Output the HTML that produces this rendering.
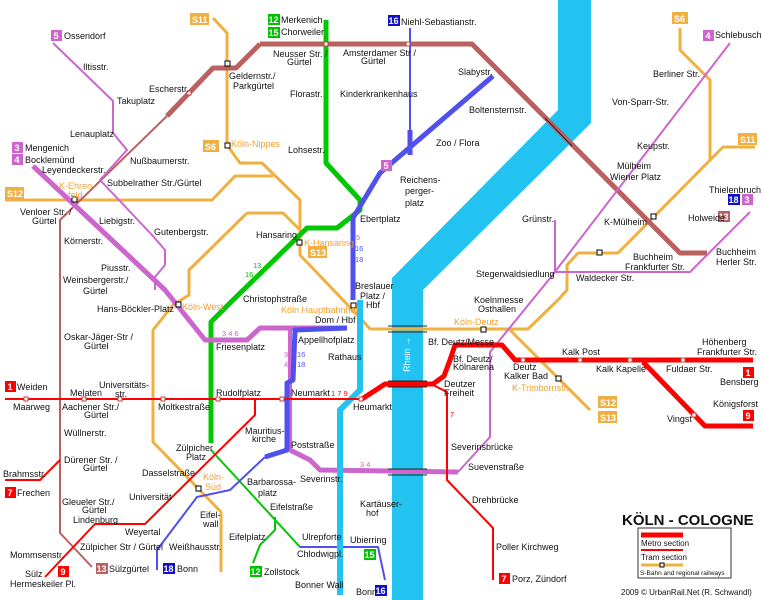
<!DOCTYPE html>
<html><head><meta charset="utf-8"><style>
html,body{margin:0;padding:0;background:#fff}
svg{display:block}
text{font-family:"Liberation Sans",sans-serif;font-size:9px;fill:#111}
.o{fill:#f0a030}
.s{font-size:7.5px}
.bw{fill:#fff;font-weight:bold;font-size:9px}
</style></head><body>
<svg width="762" height="600" viewBox="0 0 762 600" xmlns="http://www.w3.org/2000/svg">
<rect width="762" height="600" fill="#fff"/>
<polygon points="558,0 591,0 591,123 423,290 423,600 392,600 392,278 558,110" fill="#22c3f0"/>
<g fill="none" stroke-linejoin="round" stroke-linecap="butt">
<g stroke="#f0b040" stroke-width="3">
<polyline points="213,18 227,33 227,145 240,163 262,163 300,200 300,255 343,300 362,320 370,329 528,329 558,300 567,290 567,265 578,253 618,253 723,147 755,147"/>
<polyline points="680,28 680,50 710,80 710,160"/>
<polyline points="5,200 212,200 235,176 273,176"/>
<polyline points="247,213 283,213 300,230"/>
<polyline points="247,213 189,270 189,295 173,305 153,330 153,442 221,512 221,572"/>
<polyline points="510,330 590,410"/>
</g>
<g stroke="#bb6060">
<polyline points="260,44 472,44 680,253 707,253" stroke-width="5"/>
<polyline points="260,44 236,68 213,68 167,116" stroke-width="5"/>
<polyline points="167,116 60,220 60,533 92,567" stroke-width="2"/>
</g>
<g stroke="#00c800">
<polyline points="326,20 326,163 360,200 360,210 337,228 307,228 233,300 211,322 211,443" stroke-width="5"/>
<polyline points="211,450 300,547 378,547" stroke-width="2"/>
<polyline points="275,517 275,530 260,545 253,563" stroke-width="2"/>
</g>
<g stroke="#cc66cc">
<polyline points="33,166 165,290 205,340 247,340 260,328 347,328" stroke-width="5"/>
<polyline points="290,450 310,460 320,470 458,472" stroke-width="5"/>
<polyline points="53,43 113,101 113,133 127,150 100,180 153,236 165,250 165,265 155,277 155,290" stroke-width="2"/>
<polyline points="458,472 490,437 490,352 551,277 730,43" stroke-width="2"/>
<polyline points="555,220 555,272 690,272 750,212" stroke-width="2"/>
<polyline points="290,330 290,450" stroke-width="4"/>
</g>
<g stroke="#5050ee">
<polyline points="410,28 410,130" stroke-width="2"/>
<polyline points="410,130 410,155" stroke-width="5"/>
<polyline points="493,76 380,173 353,218 353,300" stroke-width="5"/>
<polyline points="347,328 295,330 293,380 287,383 287,450 265,457" stroke-width="5"/>
<polyline points="265,457 230,490 197,497 157,550 157,570" stroke-width="2"/>
<polyline points="300,547 378,547 385,580" stroke-width="2"/>
</g>
<polyline points="360,300 360,390 340,410 340,595" stroke="#22c3f0" stroke-width="6"/>
<g stroke="#ff0000">
<polyline points="5,399 362,399" stroke-width="2"/>
<polyline points="362,399 385,384 433,384 444,376 450,360 455,345 502,345 515,360 753,360" stroke-width="5"/>
<polyline points="643,362 705,426 753,426" stroke-width="5"/>
<polyline points="433,385 447,392 447,480 493,528 493,580" stroke-width="2"/>
<polyline points="255,399 255,415 145,524 95,524 45,577" stroke-width="2"/>
<polyline points="60,460 40,480 5,480" stroke-width="2"/>
</g>
<g stroke="#222" stroke-width="1">
<line x1="388" y1="326" x2="427" y2="326"/><line x1="388" y1="332" x2="427" y2="332"/>
<line x1="388" y1="381" x2="427" y2="381"/><line x1="388" y1="387" x2="427" y2="387"/>
<line x1="388" y1="469" x2="427" y2="469"/><line x1="388" y1="475" x2="427" y2="475"/>
<line x1="545" y1="118" x2="572" y2="146"/>
</g>
</g>
<g fill="#fff" stroke="#c04040" stroke-width="1">
<rect x="324" y="42" width="4" height="4"/><rect x="406" y="42" width="4" height="4"/><rect x="187" y="91" width="4" height="4"/>
<rect x="24" y="397" width="4" height="4"/><rect x="82" y="397" width="4" height="4"/><rect x="118" y="397" width="4" height="4"/><rect x="161" y="397" width="4" height="4"/><rect x="216" y="397" width="4" height="4"/><rect x="280" y="397" width="4" height="4"/><rect x="359" y="397" width="4" height="4"/>
<rect x="521" y="358" width="4" height="4"/><rect x="578" y="358" width="4" height="4"/><rect x="628" y="358" width="4" height="4"/><rect x="681" y="358" width="4" height="4"/><rect x="692" y="413" width="4" height="4"/>
</g>
<g fill="#fff" stroke="#000" stroke-width="1">
<rect x="225" y="61" width="5" height="5"/><rect x="225" y="143" width="5" height="5"/><rect x="72" y="197" width="5" height="5"/><rect x="297" y="240" width="5" height="5"/><rect x="176" y="302" width="5" height="5"/><rect x="351" y="303" width="5" height="5"/><rect x="196" y="486" width="5" height="5"/><rect x="481" y="327" width="5" height="5"/><rect x="556" y="376" width="5" height="5"/><rect x="651" y="214" width="5" height="5"/><rect x="597" y="250" width="5" height="5"/>
</g>
<g>
<rect x="51" y="30" width="11" height="11" fill="#cc66cc"/><text x="53.5" y="39" class="bw">5</text>
<rect x="12" y="142" width="11" height="11" fill="#cc66cc"/><text x="14.5" y="151" class="bw">3</text>
<rect x="12" y="154" width="11" height="11" fill="#cc66cc"/><text x="14.5" y="163" class="bw">4</text>
<rect x="268" y="14" width="12" height="11" fill="#00c000"/><text x="268.5" y="23" class="bw">12</text>
<rect x="268" y="27" width="12" height="11" fill="#00c000"/><text x="268.5" y="36" class="bw">15</text>
<rect x="190" y="13" width="19" height="12" fill="#f0b040"/><text x="192" y="23" class="bw">S11</text>
<rect x="203" y="140" width="16" height="12" fill="#f0b040"/><text x="205" y="150" class="bw">S6</text>
<rect x="5" y="187" width="19" height="12" fill="#f0b040"/><text x="7" y="197" class="bw">S12</text>
<rect x="308" y="246" width="19" height="12" fill="#f0b040"/><text x="310" y="256" class="bw">S13</text>
<rect x="388" y="15" width="12" height="11" fill="#1010cc"/><text x="388.5" y="24" class="bw">16</text>
<rect x="381" y="160" width="11" height="11" fill="#cc66cc"/><text x="383.5" y="169" class="bw">5</text>
<rect x="672" y="12" width="16" height="12" fill="#f0b040"/><text x="674" y="22" class="bw">S6</text>
<rect x="703" y="30" width="11" height="11" fill="#cc66cc"/><text x="705.5" y="39" class="bw">4</text>
<rect x="738" y="133" width="19" height="12" fill="#f0b040"/><text x="740" y="143" class="bw">S11</text>
<rect x="728" y="194" width="12" height="11" fill="#1010cc"/><text x="728.5" y="203" class="bw">18</text>
<rect x="742" y="194" width="11" height="11" fill="#cc66cc"/><text x="744.5" y="203" class="bw">3</text>
<rect x="718" y="211" width="12" height="11" fill="#bb6060"/><text x="718.5" y="220" class="bw">13</text>
<rect x="5" y="381" width="11" height="11" fill="#ff0000"/><text x="7.5" y="390" class="bw">1</text>
<rect x="5" y="487" width="11" height="11" fill="#ff0000"/><text x="7.5" y="496" class="bw">7</text>
<rect x="58" y="566" width="11" height="11" fill="#ff0000"/><text x="60.5" y="575" class="bw">9</text>
<rect x="96" y="563" width="12" height="11" fill="#bb6060"/><text x="96.5" y="572" class="bw">13</text>
<rect x="163" y="563" width="12" height="11" fill="#1010cc"/><text x="163.5" y="572" class="bw">18</text>
<rect x="250" y="566" width="12" height="11" fill="#00c000"/><text x="250.5" y="575" class="bw">12</text>
<rect x="364" y="549" width="12" height="11" fill="#00c000"/><text x="364.5" y="558" class="bw">15</text>
<rect x="375" y="585" width="12" height="11" fill="#1010cc"/><text x="375.5" y="594" class="bw">16</text>
<rect x="743" y="367" width="11" height="11" fill="#ff0000"/><text x="745.5" y="376" class="bw">1</text>
<rect x="743" y="410" width="11" height="11" fill="#ff0000"/><text x="745.5" y="419" class="bw">9</text>
<rect x="598" y="396" width="19" height="12" fill="#f0b040"/><text x="600" y="406" class="bw">S12</text>
<rect x="598" y="411" width="19" height="12" fill="#f0b040"/><text x="600" y="421" class="bw">S13</text>
<rect x="499" y="573" width="11" height="11" fill="#ff0000"/><text x="501.5" y="582" class="bw">7</text>
</g>
<g>
<text x="64" y="39">Ossendorf</text><text x="83" y="70">Iltisstr.</text><text x="117" y="104">Takuplatz</text><text x="70" y="137">Lenauplatz</text><text x="130" y="164">Nußbaumerstr.</text>
<text x="25" y="151">Mengenich</text><text x="25" y="163">Bocklemünd</text><text x="42" y="173">Leyendeckerstr.</text><text x="149" y="92">Escherstr.</text>
<text x="229" y="79">Geldernstr./</text><text x="233" y="89">Parkgürtel</text><text x="273" y="57">Neusser Str. /</text><text x="287" y="65">Gürtel</text>
<text x="290" y="97">Florastr.</text><text x="288" y="153">Lohsestr.</text><text x="281" y="23">Merkenich</text><text x="281" y="35">Chorweiler</text>
<text x="231" y="147" class="o">Köln-Nippes</text><text x="59" y="189" class="o">K-Ehren-</text><text x="68" y="198" class="o">feld</text>
<text x="107" y="186">Subbelrather Str./Gürtel</text><text x="20" y="215">Venloer Str. /</text><text x="32" y="224">Gürtel</text>
<text x="99" y="224">Liebigstr.</text><text x="154" y="235">Gutenbergstr.</text><text x="64" y="244">Körnerstr.</text><text x="101" y="271">Piusstr.</text>
<text x="63" y="283">Weinsbergerstr./</text><text x="83" y="294">Gürtel</text><text x="256" y="238">Hansaring</text><text x="304" y="246" class="o">K-Hansaring</text>
<text x="253" y="268" class="s" style="fill:#00c000">13</text><text x="245" y="277" class="s" style="fill:#00c000">16</text>
<text x="356" y="240" class="s" style="fill:#cc66cc">5</text><text x="355" y="251" class="s" style="fill:#5050ee">16</text><text x="355" y="262" class="s" style="fill:#5050ee">18</text>
<text x="243" y="302">Christophstraße</text><text x="355" y="289">Breslauer</text><text x="360" y="299">Platz /</text><text x="366" y="308">Hbf</text>
<text x="401" y="25">Niehl-Sebastianstr.</text><text x="343" y="56">Amsterdamer Str /</text><text x="361" y="64">Gürtel</text><text x="340" y="97">Kinderkrankenhaus</text>
<text x="458" y="75">Slabystr.</text><text x="469" y="113">Boltensternstr.</text><text x="436" y="146">Zoo / Flora</text>
<text x="400" y="183">Reichens-</text><text x="405" y="194">perger-</text><text x="405" y="206">platz</text><text x="360" y="222">Ebertplatz</text>
<text x="715" y="38">Schlebusch</text><text x="653" y="77">Berliner Str.</text><text x="612" y="105">Von-Sparr-Str.</text><text x="637" y="149">Keupstr.</text>
<text x="617" y="169">Mülheim</text><text x="610" y="180">Wiener Platz</text><text x="709" y="193">Thielenbruch</text><text x="688" y="221">Holweide</text>
<text x="522" y="222">Grünstr.</text><text x="604" y="225">K-Mülheim</text><text x="633" y="260">Buchheim</text><text x="625" y="270">Frankfurter Str.</text>
<text x="716" y="255">Buchheim</text><text x="716" y="265">Herler Str.</text><text x="476" y="277">Stegerwaldsiedlung</text><text x="576" y="281">Waldecker Str.</text>
<text x="474" y="303">Koelnmesse</text><text x="478" y="312">Osthallen</text>
<text x="97" y="312">Hans-Böckler-Platz</text><text x="182" y="310" class="o">Köln-West</text><text x="281" y="313" class="o">Köln Hauptbahnhof</text><text x="315" y="323">Dom / Hbf</text>
<text x="64" y="340">Oskar-Jäger-Str /</text><text x="84" y="349">Gürtel</text><text x="222" y="336" class="s" style="fill:#cc66cc">3  4  6</text>
<text x="216" y="350">Friesenplatz</text><text x="298" y="343">Appellhofplatz</text><text x="328" y="360">Rathaus</text>
<text x="284" y="357" class="s" style="fill:#cc66cc">3</text><text x="284" y="367" class="s" style="fill:#cc66cc">4</text><text x="297" y="357" class="s" style="fill:#5050ee">16</text><text x="297" y="367" class="s" style="fill:#5050ee">18</text>
<text x="17" y="390">Weiden</text><text x="99" y="388">Universitäts-</text><text x="115" y="397">str.</text><text x="70" y="396">Melaten</text>
<text x="216" y="396">Rudolfplatz</text><text x="291" y="396">Neumarkt</text><text x="331" y="396" class="s" style="fill:#ff0000">1  7  9</text><text x="353" y="410">Heumarkt</text>
<text x="13" y="410">Maarweg</text><text x="62" y="410">Aachener Str./</text><text x="84" y="418">Gürtel</text><text x="158" y="410">Moltkestraße</text>
<text x="245" y="434">Mauritius-</text><text x="252" y="442">kirche</text><text x="64" y="436">Wüllnerstr.</text><text x="291" y="448">Poststraße</text>
<text x="176" y="451">Zülpicher</text><text x="186" y="460">Platz</text><text x="64" y="463">Dürener Str. /</text><text x="83" y="471">Gürtel</text>
<text x="3" y="477">Brahmsstr.</text><text x="17" y="496">Frechen</text><text x="247" y="485">Barbarossa-</text><text x="258" y="496">platz</text>
<text x="142" y="476">Dasselstraße</text><text x="300" y="482">Severinstr.</text><text x="360" y="467" class="s" style="fill:#cc66cc">3   4</text>
<text x="203" y="480" class="o">Köln-</text><text x="205" y="490" class="o">Süd</text><text x="129" y="500">Universität</text><text x="270" y="510">Eifelstraße</text>
<text x="200" y="518">Eifel-</text><text x="203" y="527">wall</text><text x="62" y="505">Gleueler Str./</text><text x="82" y="513">Gürtel</text><text x="73" y="523">Lindenburg</text>
<text x="360" y="507">Kartäuser-</text><text x="366" y="516">hof</text><text x="125" y="535">Weyertal</text><text x="229" y="540">Eifelplatz</text><text x="302" y="540">Ulrepforte</text>
<text x="80" y="550">Zülpicher Str / Gürtel</text><text x="169" y="550">Weißhausstr.</text><text x="297" y="557">Chlodwigpl.</text><text x="350" y="543">Ubierring</text>
<text x="10" y="558">Mommsenstr.</text><text x="109" y="572">Sülzgürtel</text><text x="177" y="572">Bonn</text><text x="264" y="575">Zollstock</text>
<text x="25" y="577">Sülz</text><text x="10" y="587">Hermeskeiler Pl.</text><text x="295" y="588">Bonner Wall</text><text x="356" y="595">Bonn</text>
<text x="454" y="325" class="o">Köln-Deutz</text><text x="410" y="372" transform="rotate(-90 410 372)" style="fill:#fff">Rhein →</text>
<text x="428" y="345">Bf. Deutz/Messe</text><text x="453" y="362">Bf. Deutz/</text><text x="453" y="370">Kölnarena</text><text x="444" y="387">Deutzer</text><text x="444" y="396">Freiheit</text>
<text x="562" y="355">Kalk Post</text><text x="513" y="370">Deutz</text><text x="504" y="379">Kalker Bad</text><text x="596" y="372">Kalk Kapelle</text><text x="666" y="372">Fuldaer Str.</text>
<text x="702" y="345">Höhenberg</text><text x="697" y="355">Frankfurter Str.</text><text x="512" y="391" class="o">K-Trimbornstr.</text><text x="720" y="385">Bensberg</text>
<text x="713" y="407">Königsforst</text><text x="667" y="422">Vingst</text><text x="450" y="417" class="s" style="fill:#ff0000">7</text>
<text x="451" y="450">Severinsbrücke</text><text x="468" y="470">Suevenstraße</text><text x="472" y="503">Drehbrücke</text>
<text x="496" y="550">Poller Kirchweg</text><text x="512" y="582">Porz, Zündorf</text>
<text x="622" y="525" style="font-size:15px;font-weight:bold">KÖLN - COLOGNE</text>
<text x="621" y="595" style="font-size:8px">2009 © UrbanRail.Net (R. Schwandl)</text>
</g>
<rect x="638" y="528" width="93" height="50" fill="#fff" stroke="#333" stroke-width="1"/>
<line x1="641" y1="535" x2="683" y2="535" stroke="#ff0000" stroke-width="5"/>
<text x="641" y="546" style="font-size:8px">Metro section</text>
<line x1="641" y1="550" x2="683" y2="550" stroke="#ff0000" stroke-width="2"/>
<text x="641" y="560" style="font-size:8px">Tram section</text>
<line x1="641" y1="565" x2="683" y2="565" stroke="#f0b040" stroke-width="3"/>
<rect x="660" y="563" width="4" height="4" fill="#fff" stroke="#000"/>
<text x="640" y="575" style="font-size:6.5px">S-Bahn and regional railways</text>
</svg>
</body></html>
